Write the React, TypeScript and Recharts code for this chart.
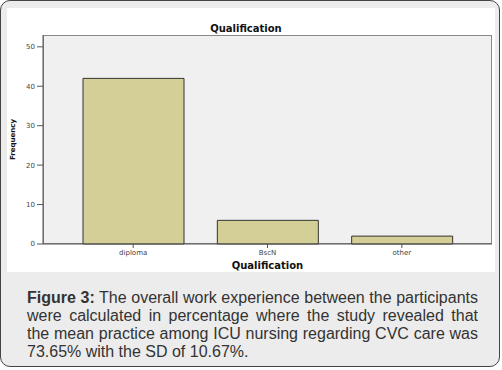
import React from "react";
import { BarChart, Bar, XAxis, YAxis, Label } from "recharts";

const categories = ["diploma", "BscN", "other"];
const frequencies = [42, 6, 2];
const yTicks = [0, 10, 20, 30, 40, 50];

const data = categories.map((name, i) => ({ name, freq: frequencies[i] }));

const tickStyle = { fontSize: 7, fill: "#444", fontFamily: "DejaVu Sans" };

export default function App() {
    return (
        <div style={{ position: "fixed", left: 0, top: 0, width: 502, height: 370, fontFamily: "Liberation Sans, Arial, sans-serif" }}>
            {/* outer frame */}
            <div style={{ position: "absolute", left: 0, top: 0, width: 500, height: 367, border: "1.5px solid #444", borderRadius: 10, background: "#ececec", boxSizing: "border-box" }} />
            {/* white chart panel */}
            <div style={{ position: "absolute", left: 7, top: 8, width: 488, height: 264, background: "#fff" }} />
            {/* plot area background */}
            <div style={{ position: "absolute", left: 43, top: 35, width: 449, height: 209, background: "#f0f0f0", border: "1px solid #888", boxSizing: "border-box" }} />
            <div style={{ position: "absolute", left: 7, width: 478, top: 23, textAlign: "center", fontFamily: "DejaVu Sans", fontWeight: "bold", fontSize: 10, color: "#111" }}>
                Qualification
            </div>
            <div style={{ position: "absolute", left: 0, top: 0 }}>
                <BarChart width={502} height={272} data={data} margin={{ top: 35, right: 10, left: 13, bottom: 8 }} barSize={101}>
                    <XAxis dataKey="name" tick={tickStyle} tickLine={{ stroke: "#555" }} tickSize={4} axisLine={{ stroke: "#555" }} height={20} interval={0} padding={{ left: 23, right: 23 }}>
                        <Label value="Qualification" position="insideBottom" offset={-5} style={{ fontFamily: "DejaVu Sans", fontWeight: "bold", fontSize: 10, fill: "#111" }} />
                    </XAxis>
                    <YAxis domain={[0, 53]} ticks={yTicks} tick={tickStyle} tickLine={{ stroke: "#555" }} tickSize={6} axisLine={{ stroke: "#555" }} width={30}>
                        <Label value="Frequency" angle={-90} position="insideLeft" offset={0} style={{ fontFamily: "DejaVu Sans", fontWeight: "bold", fontSize: 7, fill: "#111", textAnchor: "middle" }} />
                    </YAxis>
                    <Bar dataKey="freq" fill="#d4cf96" stroke="#333" strokeWidth={1} isAnimationActive={false} />
                </BarChart>
            </div>
            {/* caption */}
            <div style={{ position: "absolute", left: 27, top: 289, width: 451, fontSize: 16, lineHeight: "18px", textAlign: "justify", color: "#333" }}>
                <b>Figure 3:</b> The overall work experience between the participants were calculated in percentage where the study revealed that the mean practice among ICU nursing regarding CVC care was 73.65% with the SD of 10.67%.
            </div>
        </div>
    );
}
